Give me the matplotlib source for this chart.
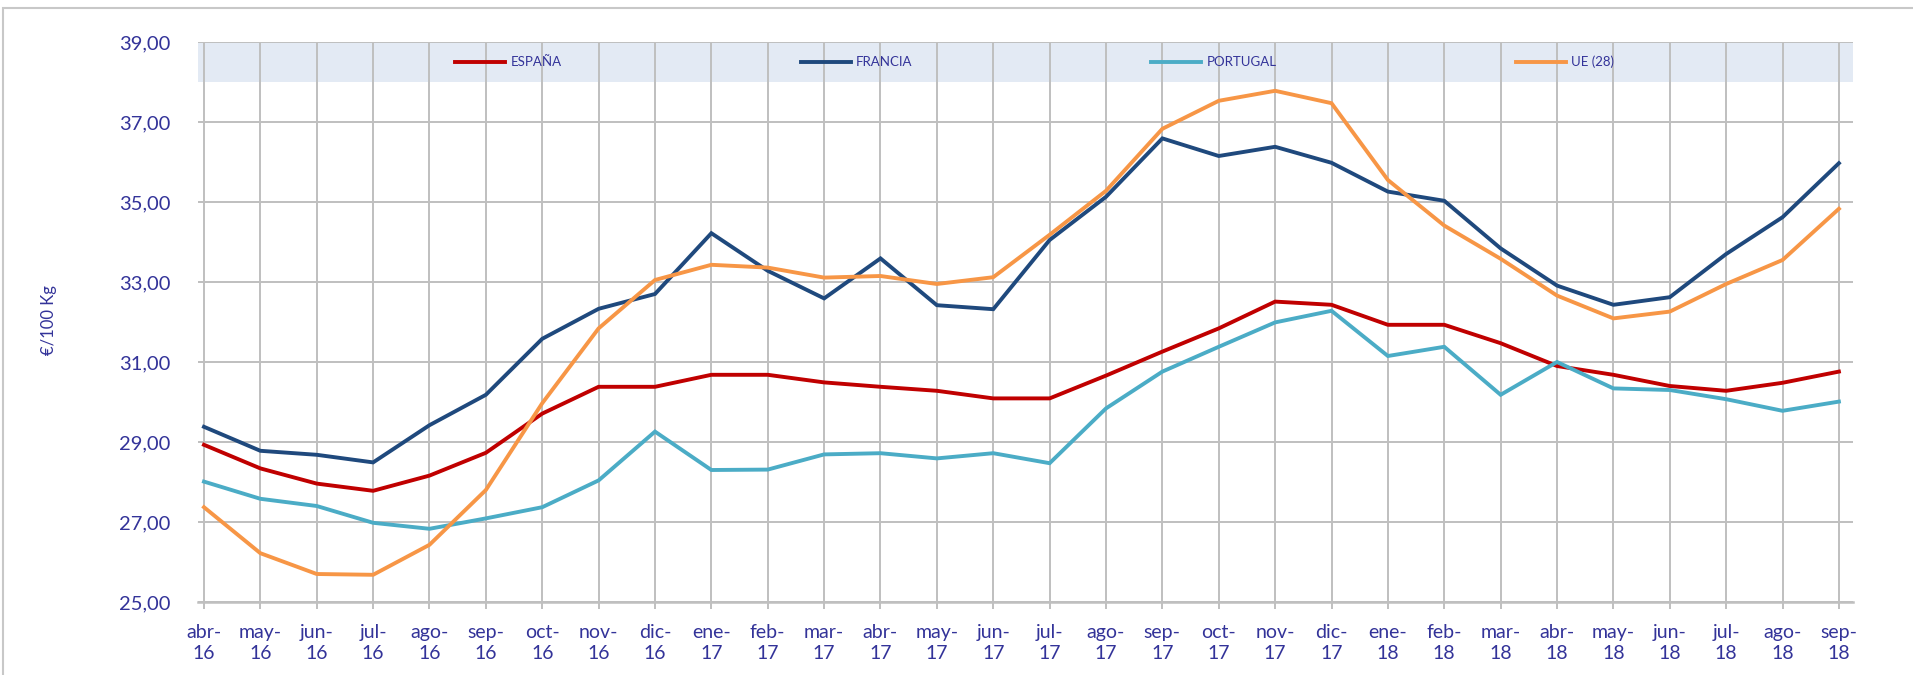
import matplotlib
matplotlib.use("Agg")
import matplotlib.pyplot as plt
from matplotlib.patches import Rectangle

plt.rcParams['font.family'] = ['Lato', 'DejaVu Sans']

# monthly prices, €/100 Kg
months = ['abr-\n16', 'may-\n16', 'jun-\n16', 'jul-\n16', 'ago-\n16', 'sep-\n16', 'oct-\n16', 'nov-\n16', 'dic-\n16',
          'ene-\n17', 'feb-\n17', 'mar-\n17', 'abr-\n17', 'may-\n17', 'jun-\n17', 'jul-\n17', 'ago-\n17', 'sep-\n17',
          'oct-\n17', 'nov-\n17', 'dic-\n17', 'ene-\n18', 'feb-\n18', 'mar-\n18', 'abr-\n18', 'may-\n18', 'jun-\n18',
          'jul-\n18', 'ago-\n18', 'sep-\n18']
espana = [28.93, 28.34, 27.96, 27.78, 28.16, 28.73, 29.71, 30.38, 30.38, 30.68, 30.68, 30.49, 30.38, 30.28, 30.09,
          30.09, 30.66, 31.26, 31.84, 32.51, 32.43, 31.93, 31.93, 31.47, 30.90, 30.68, 30.40, 30.28, 30.48, 30.76]
francia = [29.38, 28.78, 28.68, 28.49, 29.42, 30.18, 31.58, 32.33, 32.70, 34.22, 33.28, 32.59, 33.59, 32.42, 32.32,
           34.05, 35.13, 36.59, 36.15, 36.38, 35.98, 35.26, 35.03, 33.84, 32.91, 32.43, 32.62, 33.70, 34.62, 35.97]
portugal = [28.01, 27.58, 27.40, 26.98, 26.83, 27.09, 27.37, 28.04, 29.26, 28.30, 28.31, 28.69, 28.72, 28.59, 28.72,
            28.47, 29.84, 30.76, 31.38, 31.99, 32.28, 31.15, 31.38, 30.18, 31.00, 30.34, 30.30, 30.07, 29.78, 30.01]
ue28 = [27.37, 26.22, 25.70, 25.68, 26.43, 27.80, 29.97, 31.84, 33.05, 33.43, 33.36, 33.11, 33.15, 32.95, 33.12,
        34.18, 35.28, 36.83, 37.53, 37.78, 37.47, 35.55, 34.41, 33.58, 32.66, 32.09, 32.26, 32.95, 33.55, 34.83]

series = [('ESPAÑA', espana, '#C00000'),
          ('FRANCIA', francia, '#1F497D'),
          ('PORTUGAL', portugal, '#4BACC6'),
          ('UE (28)', ue28, '#F79646')]

txt = '#333399'
grid = '#BFBFBF'

fig = plt.figure(figsize=(19.13, 6.75), dpi=100)
ax = fig.add_axes([198 / 1913, 1 - 602 / 675, 1655 / 1913, 560 / 675])

# light border around the whole chart
fig.patches.append(Rectangle((3 / 1913, -0.01), 1.0, 1 - 8 / 675 + 0.01, transform=fig.transFigure,
                             fill=False, edgecolor='#C8C8C8', lw=1.5))

x = list(range(len(months)))
for name, vals, col in series:
    ax.plot(x, vals, color=col, lw=2.8, label=name, solid_joinstyle='miter')

# legend band
ax.axhspan(38, 39, color='#E3EAF4', zorder=0.5, lw=0)

ax.set_ylim(25, 39)
ax.set_xlim(-0.106, 29.25)
ax.set_yticks(range(25, 40, 2))
ax.set_yticklabels([f'{v},00' for v in range(25, 40, 2)])
ax.set_xticks(x)
ax.set_xticklabels(months)

ax.grid(True, color=grid, lw=1.4, zorder=0.6)
ax.set_axisbelow(True)
for s in ['left', 'right', 'top']:
    ax.spines[s].set_visible(False)
ax.spines['bottom'].set_color(grid)
ax.spines['bottom'].set_linewidth(1.8)

ax.tick_params(axis='y', length=0, pad=20, labelsize=14.5, labelcolor=txt)
ax.tick_params(axis='x', length=5, width=1.4, color=grid, direction='out', pad=11, labelsize=14, labelcolor=txt)
for lab in ax.get_xticklabels():
    lab.set_linespacing(1.25)

fig.text(49 / 1913, 1 - 320 / 675, '€/100 Kg', rotation=90, ha='center', va='center', color=txt, fontsize=12)

ax.legend(loc='center', bbox_to_anchor=(0.5055, 0.964), ncol=4, frameon=False, handlelength=3.8,
          handletextpad=0.4, columnspacing=18.1, fontsize=9.5, labelcolor=txt)

fig.savefig('out.png', dpi=100)
